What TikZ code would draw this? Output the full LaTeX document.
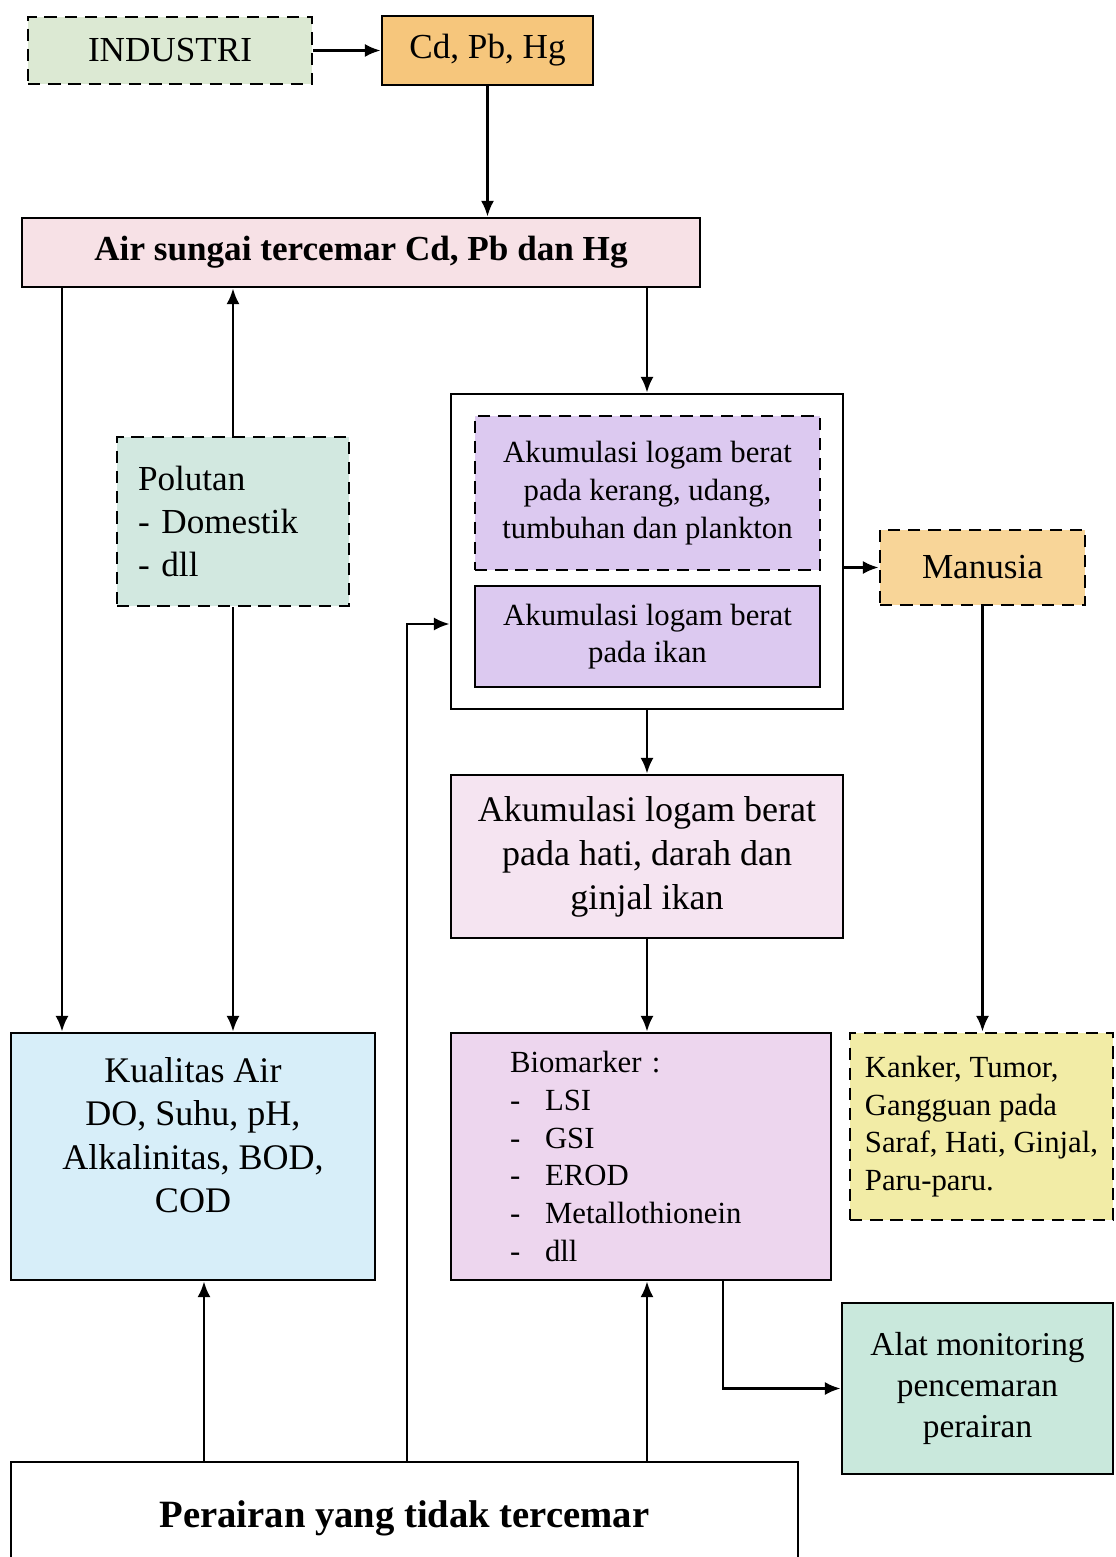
\documentclass[tikz,border=0pt]{standalone}
\usepackage{fontspec}
\setmainfont{Liberation Serif}
\usepackage{xcolor}
\usetikzlibrary{arrows.meta, positioning, calc}
\tikzset{>=Latex}

\definecolor{hellgruen}{HTML}{DCE9D3}
\definecolor{orange1}{HTML}{F6C67C}
\definecolor{orange2}{HTML}{F8D598}
\definecolor{rosa}{HTML}{F7E1E6}
\definecolor{mint}{HTML}{D2E8E0}
\definecolor{lavendel}{HTML}{DCC9F0}
\definecolor{rosalila}{HTML}{F5E4F1}
\definecolor{lila}{HTML}{EDD6EE}
\definecolor{hellblau}{HTML}{D7EEF9}
\definecolor{gelb}{HTML}{F2ECA6}
\definecolor{tuerkis}{HTML}{C9E8DC}

\begin{document}
\begin{tikzpicture}[x=0.02cm, y=-0.02cm,
   box/.style={draw, line width=1.6pt, inner sep=0pt, align=center},
   dbox/.style={box, dash pattern=on 7pt off 4.5pt},
   pfeil/.style={->, line width=1.5pt, >={Latex[length=9pt,width=7.5pt]}},
   gross/.style={font=\fontsize{20}{24.5}\selectfont},
   mittel/.style={font=\fontsize{17.5}{21.5}\selectfont}]

   % Rahmen des Bildes
   \useasboundingbox[fill=white] (0,0) rectangle (1115,1557);

   % oberste Reihe
   \node[dbox, gross, fill=hellgruen, minimum width=5.68cm, minimum height=1.34cm]
      (industri) at (170,50.5) {INDUSTRI};
   \node[box, gross, fill=orange1, minimum width=4.22cm, minimum height=1.38cm]
      (logam) at (487.5,50.5) {Cd, Pb, Hg};

   % verschmutzter Fluss
   \node[box, fill=rosa, minimum width=13.56cm, minimum height=1.38cm,
      font=\fontsize{20}{24}\selectfont\bfseries]
      (sungai) at (361,252.5) {Air sungai tercemar Cd, Pb dan Hg};

   % Schadstoffe
   \node[dbox, gross, fill=mint, align=left, text width=3.8cm, inner xsep=0.42cm,
      minimum height=3.38cm]
      (polutan) at (233,521.5) {Polutan\\- Domestik\\- dll};

   % Akkumulation in Organismen (Rahmen mit zwei Kaesten)
   \node[box, fill=white, minimum width=7.84cm, minimum height=6.30cm]
      (biota) at (647,551.5) {};
   \node[dbox, mittel, fill=lavendel, minimum width=6.90cm, minimum height=3.08cm]
      (kerang) at (647.5,493) {Akumulasi logam berat\\pada kerang, udang,\\tumbuhan dan plankton};
   \node[box, mittel, fill=lavendel, minimum width=6.90cm, minimum height=2.02cm]
      (ikan) at (647.5,636.5) {Akumulasi logam berat\\pada ikan};

   % Mensch
   \node[dbox, gross, fill=orange2, minimum width=4.10cm, minimum height=1.50cm]
      (manusia) at (982.5,567.5) {Manusia};

   % Organe des Fisches
   \node[box, fill=rosalila, minimum width=7.84cm, minimum height=3.26cm,
      font=\fontsize{20.5}{25}\selectfont]
      (organ) at (647,856.5) {Akumulasi logam berat\\pada hati, darah dan\\ginjal ikan};

   % Wasserqualitaet (Text etwas nach oben)
   \node[box, fill=hellblau, minimum width=7.28cm, minimum height=4.94cm,
      font=\fontsize{20.5}{24.5}\selectfont]
      (kualitas) at (193,1156.5) {Kualitas Air\\DO, Suhu, pH,\\Alkalinitas, BOD,\\COD\\ \mbox{}};

   % Biomarker
   \node[box, mittel, fill=lila, align=left, text width=5.24cm, inner xsep=1.18cm,
      minimum height=4.94cm]
      (biomarker) at (641,1156.5) {Biomarker :\\
         \makebox[0.7cm][l]{-}LSI\\
         \makebox[0.7cm][l]{-}GSI\\
         \makebox[0.7cm][l]{-}EROD\\
         \makebox[0.7cm][l]{-}Metallothionein\\
         \makebox[0.7cm][l]{-}dll};

   % Krankheiten
   \node[dbox, fill=gelb, align=left, minimum width=5.26cm, minimum height=3.74cm,
      font=\fontsize{17.5}{21.3}\selectfont]
      (penyakit) at (981.5,1126.5) {Kanker, Tumor,\\Gangguan pada\\Saraf, Hati, Ginjal,\\Paru-paru.};

   % Monitoring
   \node[box, fill=tuerkis, minimum width=5.42cm, minimum height=3.42cm,
      font=\fontsize{19}{23.3}\selectfont]
      (alat) at (977.5,1388.5) {Alat monitoring\\pencemaran\\perairan};

   % unverschmutztes Gewaesser
   \node[box, fill=white, minimum width=15.74cm, minimum height=2.24cm,
      font=\fontsize{22}{26}\selectfont\bfseries]
      (perairan) at (404.5,1518) {Perairan yang tidak tercemar};

   % Hilfspunkte fuer die Linien
   \coordinate (l1) at (62,0);
   \coordinate (l2) at (723,0);
   \coordinate (l3) at (204,0);
   \coordinate (l4) at (407,624);

   % Pfeile oben
   \draw[pfeil] (industri) -- (logam);
   \draw[pfeil] (logam.south) -- (logam.south |- sungai.north);
   \draw[pfeil] (sungai.south -| l1) -- (kualitas.north -| l1);
   \draw[pfeil] (polutan.north) -- (polutan.north |- sungai.south);
   \draw[pfeil] (polutan.south) -- (polutan.south |- kualitas.north);
   \draw[pfeil] (biota.north |- sungai.south) -- (biota.north);

   % Pfeile rechts
   \draw[pfeil] (manusia.west -| biota.east) -- (manusia.west);
   \draw[pfeil] (manusia.south) -- (manusia.south |- penyakit.north);
   \draw[pfeil] (biota.south) -- (organ.north);
   \draw[pfeil] (organ.south) -- (organ.south |- biomarker.north);
   \draw[pfeil] (biomarker.south -| l2) |- (alat.west);

   % Pfeile von unten
   \draw[pfeil] (perairan.north -| l3) -- (kualitas.south -| l3);
   \draw[pfeil] (perairan.north -| l4) |- (biota.west |- l4);
   \draw[pfeil] (perairan.north -| organ.south) -- (biomarker.south -| organ.south);

\end{tikzpicture}
\end{document}
